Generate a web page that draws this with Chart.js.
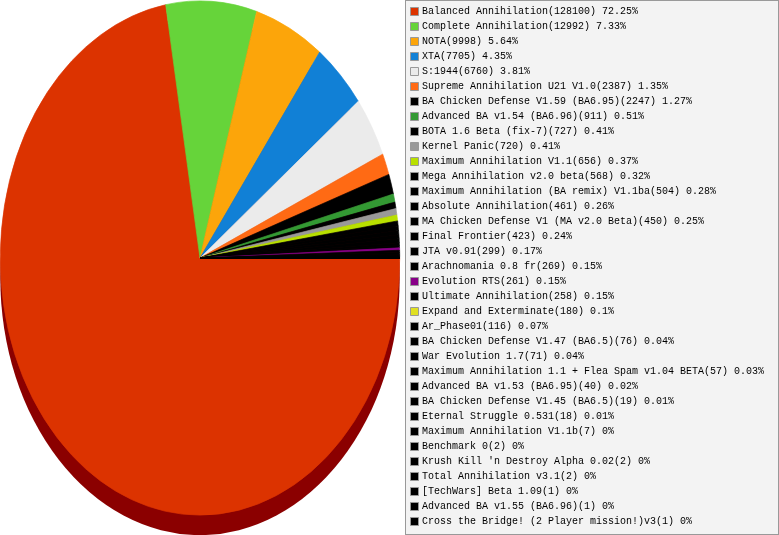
<!DOCTYPE html>
<html>
<head>
<meta charset="utf-8">
<style>html,body{margin:0;padding:0;background:#fff}canvas{display:block}</style>
<script src="https://cdn.jsdelivr.net/npm/chart.js@4"></script>
</head>
<body>
<div style="width:779px;height:535px;position:relative"><canvas id="c"></canvas></div>
<script>
const categories = ["Balanced Annihilation","Complete Annihilation","NOTA","XTA","S:1944","Supreme Annihilation U21 V1.0","BA Chicken Defense V1.59 (BA6.95)","Advanced BA v1.54 (BA6.96)","BOTA 1.6 Beta (fix-7)","Kernel Panic","Maximum Annihilation V1.1","Mega Annihilation v2.0 beta","Maximum Annihilation (BA remix) V1.1ba","Absolute Annihilation","MA Chicken Defense V1 (MA v2.0 Beta)","Final Frontier","JTA v0.91","Arachnomania 0.8 fr","Evolution RTS","Ultimate Annihilation","Expand and Exterminate","Ar_Phase01","BA Chicken Defense V1.47 (BA6.5)","War Evolution 1.7","Maximum Annihilation 1.1 + Flea Spam v1.04 BETA","Advanced BA v1.53 (BA6.95)","BA Chicken Defense V1.45 (BA6.5)","Eternal Struggle 0.531","Maximum Annihilation V1.1b","Benchmark 0","Krush Kill 'n Destroy Alpha 0.02","Total Annihilation v3.1","[TechWars] Beta 1.09","Advanced BA v1.55 (BA6.96)","Cross the Bridge! (2 Player mission!)v3"];
const values = [128100,12992,9998,7705,6760,2387,2247,911,727,720,656,568,504,461,450,423,299,269,261,258,180,116,76,71,57,40,19,18,7,2,2,2,1,1,1];
const percents = [72.25,7.33,5.64,4.35,3.81,1.35,1.27,0.51,0.41,0.41,0.37,0.32,0.28,0.26,0.25,0.24,0.17,0.15,0.15,0.15,0.1,0.07,0.04,0.04,0.03,0.02,0.01,0.01,0,0,0,0,0,0,0];
const colors = ["#dc3300","#66d43a","#fca50a","#1180d6","#ebebeb","#ff6a14","#000000","#339933","#000000","#999999","#b9e000","#000000","#000000","#000000","#000000","#000000","#000000","#000000","#880088","#000000","#e0e022","#000000","#000000","#000000","#000000","#000000","#000000","#000000","#000000","#000000","#000000","#000000","#000000","#000000","#000000"];
// The Expand and Exterminate slice does not show in the reference pie, only in its legend.
const sliceColors = colors.map((c,i)=>categories[i]==="Expand and Exterminate"?"#000000":c);
const labelsText = categories.map((n,i)=>n+"("+values[i]+") "+percents[i]+"%");

const ellipsePlugin = {
  id:'ellipse',
  beforeDraw(chart){
    const c=chart.ctx;
    c.save();
    c.fillStyle='#f3f3f3';c.fillRect(405,0,374,535);
    c.strokeStyle='#999999';c.lineWidth=1;c.strokeRect(405.5,0.5,373,534);
    c.restore();
  },
  afterLayout(chart){
    const l=chart.legend, w=l.right-l.left;
    l.left=407; l.right=407+w; l.top=1.5;
  },
  beforeDatasetsDraw(chart){
    const a=chart.getDatasetMeta(0).data[0], c=chart.ctx, r=a.outerRadius;
    c.save();
    c.fillStyle='#8b0000';
    c.beginPath();c.ellipse(200,278,r,r*1.2875,0,0,Math.PI*2);c.fill();
    c.translate(200,258);c.scale(1,1.2875);c.translate(-a.x,-a.y);
  },
  afterDatasetsDraw(chart){chart.ctx.restore();}
};

new Chart(document.getElementById('c'),{
  type:'pie',
  data:{labels:labelsText,datasets:[{data:values,backgroundColor:sliceColors,borderColor:sliceColors,borderWidth:0.6,clip:false}]},
  options:{
    responsive:true,maintainAspectRatio:false,animation:false,
    rotation:90,radius:199.7,
    plugins:{
      tooltip:{enabled:false},
      legend:{display:true,position:'right',align:'start',
        labels:{
          font:{family:"'Liberation Mono'",size:10},color:'#000',
          usePointStyle:true,pointStyle:'rect',boxWidth:5,boxHeight:8,padding:5,
          generateLabels(chart){
            return labelsText.map((t,i)=>({text:t,fillStyle:colors[i],strokeStyle:'#999999',lineWidth:1,pointStyle:'rect',index:i,hidden:false}));
          }
        }
      }
    }
  },
  plugins:[ellipsePlugin]
});
</script>
</body>
</html>
